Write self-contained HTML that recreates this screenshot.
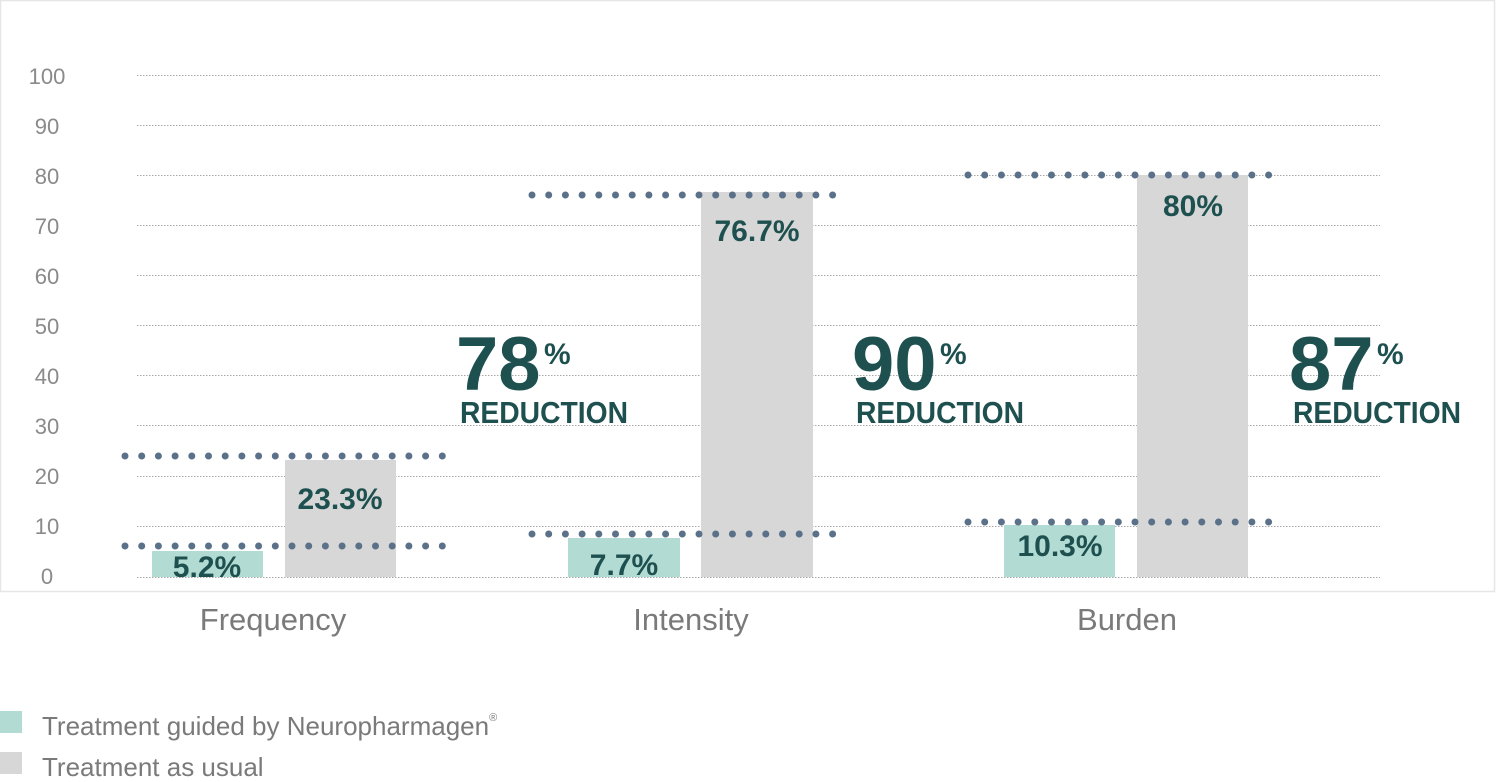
<!DOCTYPE html>
<html><head><meta charset="utf-8"><style>
html,body{margin:0;padding:0;background:#fff;}
svg{display:block;font-family:"Liberation Sans",sans-serif;}
</style></head><body>
<svg width="1500" height="782" viewBox="0 0 1500 782" xmlns="http://www.w3.org/2000/svg">
<rect x="0.5" y="0.5" width="1494" height="591" fill="none" stroke="#e6e6e6" stroke-width="1.5"/>
<g stroke="#a8a8a8" stroke-width="1" stroke-dasharray="1.5,1.5">
<line x1="137" x2="1380" y1="75.5" y2="75.5"/>
<line x1="137" x2="1380" y1="125.5" y2="125.5"/>
<line x1="137" x2="1380" y1="175.5" y2="175.5"/>
<line x1="137" x2="1380" y1="225.5" y2="225.5"/>
<line x1="137" x2="1380" y1="275.5" y2="275.5"/>
<line x1="137" x2="1380" y1="325.5" y2="325.5"/>
<line x1="137" x2="1380" y1="375.5" y2="375.5"/>
<line x1="137" x2="1380" y1="425.5" y2="425.5"/>
<line x1="137" x2="1380" y1="476.5" y2="476.5"/>
<line x1="137" x2="1380" y1="526.5" y2="526.5"/>
<line x1="137" x2="1380" y1="577.5" y2="577.5"/>
</g>
<g fill="#8a8a8a" font-size="22" text-anchor="middle">
<text x="47" y="84">100</text><text x="47" y="134">90</text><text x="47" y="184">80</text>
<text x="47" y="234">70</text><text x="47" y="284">60</text><text x="47" y="334">50</text>
<text x="47" y="384">40</text><text x="47" y="434">30</text><text x="47" y="484">20</text>
<text x="47" y="534">10</text><text x="47" y="584">0</text>
</g>
<g fill="#b1dbd3">
<rect x="152" y="551" width="111" height="26"/>
<rect x="568" y="538" width="112" height="39"/>
<rect x="1004" y="525" width="111" height="52"/>
</g>
<g fill="#d6d7d6">
<rect x="285" y="460" width="111" height="117"/>
<rect x="701" y="192" width="112" height="385"/>
<rect x="1137" y="175" width="111" height="402"/>
</g>
<g stroke="#5a7189" stroke-width="7" stroke-linecap="round" stroke-dasharray="0,16.7">
<line x1="125" x2="443" y1="456" y2="456"/>
<line x1="125" x2="443" y1="546" y2="546"/>
<line x1="532" x2="849" y1="195" y2="195"/>
<line x1="532" x2="849" y1="534" y2="534"/>
<line x1="968" x2="1285" y1="175" y2="175"/>
<line x1="968" x2="1285" y1="522" y2="522"/>
</g>
<g fill="#1f5050" font-size="30" font-weight="bold" text-anchor="middle">
<text x="207" y="577">5.2%</text>
<text x="340" y="509">23.3%</text>
<text x="624" y="575">7.7%</text>
<text x="757" y="241">76.7%</text>
<text x="1060" y="556">10.3%</text>
<text x="1193" y="216">80%</text>
</g>
<g fill="#1f5050" font-weight="bold">
<text x="456" y="390" font-size="76">78</text>
<text x="544" y="364" font-size="30">%</text>
<text x="460" y="423" font-size="31" textLength="168" lengthAdjust="spacingAndGlyphs">REDUCTION</text>
<text x="852" y="390" font-size="76">90</text>
<text x="940" y="364" font-size="30">%</text>
<text x="856" y="423" font-size="31" textLength="168" lengthAdjust="spacingAndGlyphs">REDUCTION</text>
<text x="1289" y="390" font-size="76">87</text>
<text x="1377" y="364" font-size="30">%</text>
<text x="1293" y="423" font-size="31" textLength="168" lengthAdjust="spacingAndGlyphs">REDUCTION</text>
</g>
<g fill="#7a7a7a" font-size="31" text-anchor="middle">
<text x="273" y="630">Frequency</text>
<text x="691" y="630">Intensity</text>
<text x="1127" y="630">Burden</text>
</g>
<rect x="0" y="711" width="22" height="22" fill="#b1dbd3"/>
<rect x="0" y="752" width="22" height="22" fill="#d6d7d6"/>
<g fill="#7a7a7a" font-size="26">
<text x="42" y="735">Treatment guided by Neuropharmagen<tspan font-size="11" dy="-14">®</tspan></text>
<text x="42" y="776">Treatment as usual</text>
</g>
</svg>
</body></html>
